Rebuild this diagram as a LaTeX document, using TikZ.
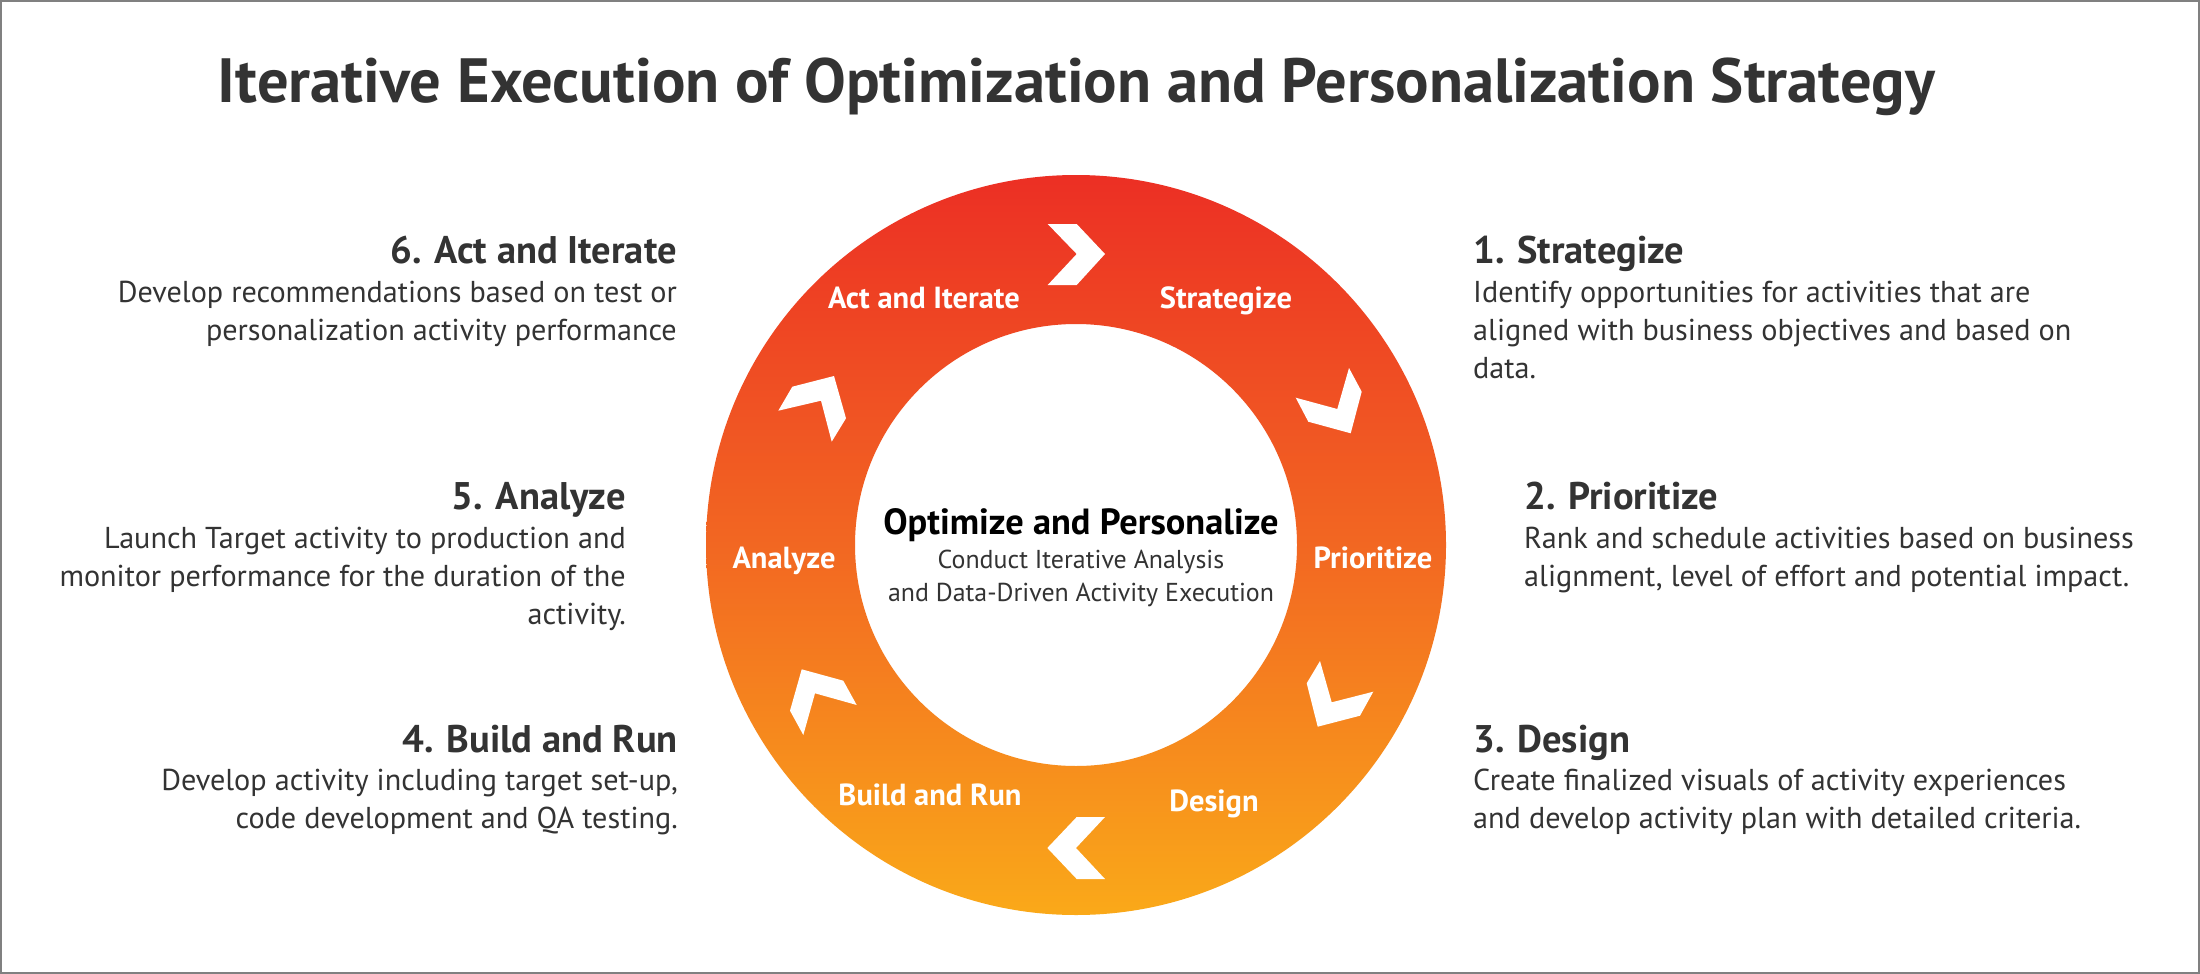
\documentclass[tikz,border=0pt]{standalone}
\usepackage{fontspec}
\setmainfont{PT Sans}
\definecolor{ringtop}{HTML}{EC2F24}
\definecolor{ringmid}{HTML}{F26722}
\definecolor{ringbot}{HTML}{FAA919}
\definecolor{titlegray}{HTML}{333333}
\definecolor{bodygray}{HTML}{333333}
\definecolor{framegray}{HTML}{808080}
\pgfdeclareverticalshading{ringshade}{100bp}{color(0bp)=(ringbot); color(25bp)=(ringbot); color(50bp)=(ringmid); color(75bp)=(ringtop); color(100bp)=(ringtop)}
\begin{document}
\begin{tikzpicture}[x=1pt,y=-1pt,
  titletext/.style={font=\fontsize{62.5}{70}\selectfont\bfseries, text=titlegray, inner sep=0pt},
  headtext/.style={font=\fontsize{38.5}{44}\selectfont\bfseries, text=titlegray, inner sep=0pt},
  bodytext/.style={font=\fontsize{30.2}{38}\selectfont, text=bodygray, inner sep=0pt},
  ringlabel/.style={font=\fontsize{30.5}{34}\selectfont\bfseries, text=white, inner sep=0pt, anchor=base},
  centhead/.style={font=\fontsize{36.4}{40}\selectfont\bfseries, text=black, inner sep=0pt, anchor=base},
  centsub/.style={font=\fontsize{25.9}{30}\selectfont, text=bodygray, inner sep=0pt, anchor=base},
  chevron/.style={fill=white, draw=none}]
\useasboundingbox (0,0) rectangle (2200,974);
\fill[white] (0,0) rectangle (2200,974);
\draw[framegray, line width=2pt] (1,1) rectangle (2199,973);

% title
\node[titletext, anchor=base] (title) at (1076.5,102) {Iterative Execution of Optimization and Personalization Strategy};

% ring
\coordinate (c) at (1076,545);
\shade[shading=ringshade, even odd rule] (c) circle[radius=370] (c) circle[radius=221];

% chevrons
\fill[chevron] (1047.7,224) -- (1076.7,224) -- (1105,254) -- (1076.7,285) -- (1047.7,285) -- (1076.7,254) -- cycle;
\fill[chevron] (1349,368) -- (1361.7,391.7) -- (1350.7,433.3) -- (1308.3,421.7) -- (1295.7,397.7) -- (1337.3,409) -- cycle;
\fill[chevron] (1320,661) -- (1306.7,683.3) -- (1317.7,726.7) -- (1360,715.7) -- (1373.3,691.7) -- (1331.7,702.3) -- cycle;
\fill[chevron] (1105,817) -- (1076.7,817) -- (1047.3,848) -- (1076.7,879) -- (1105,879) -- (1076,848) -- cycle;
\fill[chevron] (843.3,680.7) -- (856.7,705) -- (815,693.3) -- (803.3,735) -- (790,710.7) -- (801.7,669.3) -- cycle;
\fill[chevron] (778.3,410.7) -- (792.3,386.7) -- (834,376) -- (846,418.3) -- (831.7,441.7) -- (821,400.7) -- cycle;

% ring labels
\node[ringlabel] (lact) at (924,308) {Act and Iterate};
\node[ringlabel] (lstrat) at (1226,308) {Strategize};
\node[ringlabel] (lprio) at (1373,568) {Prioritize};
\node[ringlabel] (lanal) at (784,568) {Analyze};
\node[ringlabel] (lbuild) at (930,805) {Build and Run};
\node[ringlabel] (ldesign) at (1214,811) {Design};

% center
\node[centhead] (chead) at (1081,534) {Optimize and Personalize};
\node[centsub] (csub1) at (1081,568) {Conduct Iterative Analysis};
\node[centsub] (csub2) at (1081,601) {and Data-Driven Activity Execution};

% right column
\node[headtext, anchor=base west] (h1) at (1473,263) {1. Strategize};
\node[bodytext, anchor=base west] (b1a) at (1473,302) {Identify opportunities for activities that are};
\node[bodytext, anchor=base west] (b1b) at (1473,340) {aligned with business objectives and based on};
\node[bodytext, anchor=base west] (b1c) at (1473,378) {data.};

\node[headtext, anchor=base west] (h2) at (1524,509) {2. Prioritize};
\node[bodytext, anchor=base west] (b2a) at (1524,548) {Rank and schedule activities based on business};
\node[bodytext, anchor=base west] (b2b) at (1524,586) {alignment, level of effort and potential impact.};

\node[headtext, anchor=base west] (h3) at (1473,752) {3. Design};
\node[bodytext, anchor=base west] (b3a) at (1473,790) {Create finalized visuals of activity experiences};
\node[bodytext, anchor=base west] (b3b) at (1473,828) {and develop activity plan with detailed criteria.};

% left column
\node[headtext, anchor=base east] (h6) at (677,263) {6. Act and Iterate};
\node[bodytext, anchor=base east] (b6a) at (677,302) {Develop recommendations based on test or};
\node[bodytext, anchor=base east] (b6b) at (677,340) {personalization activity performance};

\node[headtext, anchor=base east] (h5) at (626,509) {5. Analyze};
\node[bodytext, anchor=base east] (b5a) at (626,548) {Launch Target activity to production and};
\node[bodytext, anchor=base east] (b5b) at (626,586) {monitor performance for the duration of the};
\node[bodytext, anchor=base east] (b5c) at (626,624) {activity.};

\node[headtext, anchor=base east] (h4) at (678,752) {4. Build and Run};
\node[bodytext, anchor=base east] (b4a) at (678,790) {Develop activity including target set-up,};
\node[bodytext, anchor=base east] (b4b) at (678,828) {code development and QA testing.};
\end{tikzpicture}
\end{document}
